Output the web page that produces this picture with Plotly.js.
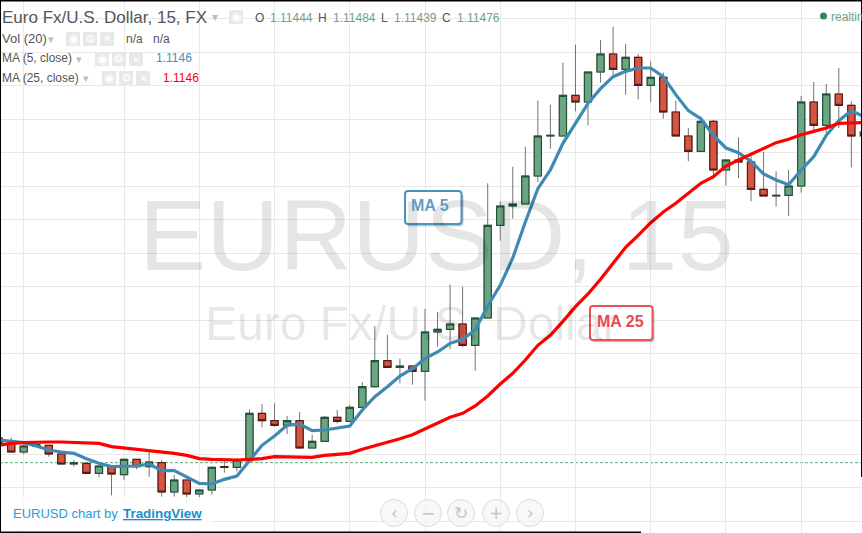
<!DOCTYPE html>
<html>
<head>
<meta charset="utf-8">
<script src="https://cdn.plot.ly/plotly-3.0.1.min.js"></script>
<style>html,body{margin:0;padding:0;background:#fff;overflow:hidden}#chart{width:862px;height:533px}</style>
</head>
<body>
<div id="chart"></div>
<script>
// Prices in 1/100000 units, bars -1 .. 68
const openPts = [111513,111505,111492,111501,111502,111489,111474,111475,111460,111471,111458,111481,111470,111476,111432,111450,111429,111435,111470,111469,111479,111550,111539,111532,111539,111498,111508,111544,111538,111559,111590,111629,111619,111621,111613,111672,111676,111684,111652,111693,111832,111861,111864,111906,111966,111966,112027,112017,112062,112089,112066,112084,112042,112054,112002,111966,111943,111988,111915,111930,111927,111886,111876,111877,111891,112017,111982,112029,112012,111966];
const highPts = [111513,111514,111504,111503,111502,111490,111480,111475,111471,111471,111481,111481,111493,111480,111458,111450,111435,111470,111481,111483,111556,111564,111565,111546,111552,111518,111546,111555,111563,111597,111681,111668,111632,111621,111707,111702,111743,111740,111693,111895,111868,111920,111950,112019,112013,112076,112103,112062,112110,112130,112104,112089,112078,112061,112019,111978,111995,111990,111930,111964,111939,111942,111913,111915,112026,112047,112044,112068,112018,111972];
const lowPts = [111504,111492,111489,111501,111485,111474,111470,111460,111454,111427,111450,111466,111455,111425,111425,111416,111420,111428,111461,111463,111476,111529,111530,111519,111498,111498,111508,111535,111538,111555,111590,111619,111595,111593,111569,111650,111646,111649,111614,111693,111809,111842,111864,111897,111947,111966,112003,111982,112046,112058,112028,112021,112017,111992,111966,111928,111943,111901,111892,111903,111868,111876,111860,111846,111881,111972,111964,111978,111919,111966];
const closePts = [111504,111492,111501,111503,111489,111474,111476,111460,111471,111459,111481,111470,111477,111432,111450,111429,111435,111469,111469,111480,111550,111539,111532,111539,111498,111508,111544,111538,111559,111590,111629,111619,111621,111613,111672,111676,111684,111652,111693,111832,111861,111864,111906,111966,111967,112027,112017,112062,112089,112066,112084,112042,112054,112002,111966,111943,111988,111915,111930,111927,111886,111876,111877,111891,112017,111982,112029,112012,111966,111972];
const ma5Pts = [111510,111508,111506,111501,111495,111492,111490,111482,111475,111470,111471,111471,111474,111464,111464,111454,111445,111444,111451,111456,111479,111502,111516,111532,111534,111524,111525,111528,111531,111555,111575,111590,111606,111617,111632,111642,111655,111661,111675,111711,111742,111783,111837,111887,111915,111955,111985,112015,112037,112055,112063,112068,112068,112055,112028,112004,111992,111967,111948,111941,111928,111909,111900,111893,111915,111935,111967,111989,112004,111995];
const ma25Pts = [111502,111505,111506,111507,111507,111507,111506,111505,111505,111500,111498,111496,111495,111492,111490,111487,111482,111481,111480,111480,111481,111482,111485,111485,111484,111484,111487,111489,111490,111496,111501,111507,111512,111518,111527,111535,111544,111550,111561,111576,111594,111610,111630,111652,111667,111688,111710,111729,111751,111775,111799,111817,111836,111852,111865,111880,111895,111905,111921,111930,111939,111947,111956,111961,111968,111973,111978,111985,111986,111986];
const lastClose = 1.11476;
const gridBars = [1,9,15,21,27,33,39,45,51,57,63];

const P = a => a.map(v => v / 100000);
const bars = openPts.map((_, i) => i - 1);
const open = P(openPts), high = P(highPts), low = P(lowPts), close = P(closePts);
const bodyHigh = open.map((o, i) => Math.max(o, close[i]));
const bodyLow = open.map((o, i) => Math.min(o, close[i]));

const W = 862, H = 533;
const fx = x => x / W, fy = y => 1 - y / H;
const wick = '#737375';
const traces = [
  {type:'candlestick', name:'EURUSD wicks', x:bars, open, high, low, close, hoverinfo:'skip', showlegend:false,
   increasing:{line:{color:wick,width:1},fillcolor:wick}, decreasing:{line:{color:wick,width:1},fillcolor:wick}},
  {type:'candlestick', name:'EURUSD', x:bars, open, high:bodyHigh, low:bodyLow, close, showlegend:false,
   increasing:{line:{color:'#225437',width:1.2},fillcolor:'#6ba583'}, decreasing:{line:{color:'#5b1a13',width:1.2},fillcolor:'#d75442'}},
  {type:'scatter', mode:'lines', name:'MA 5', x:bars, y:P(ma5Pts), line:{color:'#3f8ab3',width:3.2}, showlegend:false},
  {type:'scatter', mode:'lines', name:'MA 25', x:bars, y:P(ma25Pts), line:{color:'#ff0000',width:3.2}, showlegend:false}
];

const SANS = '"Liberation Sans", Arial, sans-serif';
const txt = (text, x, y, size, color, extra) => Object.assign({
  text, x:fx(x), y:fy(y), xref:'paper', yref:'paper', xanchor:'left', yanchor:'middle', showarrow:false,
  borderpad:0, borderwidth:0, font:{family:SANS, size, color}
}, extra || {});

const G = '#6ba583', DK = '#555555', CR = '#bdbdbd';
const annotations = [
  txt('EURUSD, 15', 139, 235, 101, 'rgba(0,0,0,0.1)'),
  txt('Euro Fx/U.S. Dollar', 205, 323, 48, 'rgba(0,0,0,0.1)'),
  txt('Euro Fx/U.S. Dollar, 15, FX', 2, 17, 17, DK),
  txt('▾', 212, 17, 12, CR),
  txt('O', 255, 18, 12, DK), txt('1.11444', 270, 18, 12, G),
  txt('H', 318, 18, 12, DK), txt('1.11484', 333, 18, 12, G),
  txt('L', 381, 18, 12, DK), txt('1.11439', 394, 18, 12, G),
  txt('C', 442, 18, 12, DK), txt('1.11476', 457, 18, 12, G),
  txt('realtime', 831, 17, 12, G),
  txt('Vol (20)', 2, 38.5, 13, DK), txt('▾', 48, 39, 11, CR),
  txt('n/a', 126, 38.5, 12, DK), txt('n/a', 153, 38.5, 12, DK),
  txt('MA (5, close)', 2, 58.5, 12, DK), txt('▾', 76, 59, 11, CR),
  txt('1.1146', 156, 58.5, 12, '#4a90b8'),
  txt('MA (25, close)', 2, 77.5, 12, DK), txt('▾', 83, 78, 11, CR),
  txt('1.1146', 163, 77.5, 12, '#ff0000'),
  txt('MA 5', 411, 205.5, 16, '#5f9fc4', {font:{family:SANS,size:16,color:'#5f9fc4',weight:700}}),
  txt('MA 25', 597, 321.5, 16, '#e84c4c', {font:{family:SANS,size:16,color:'#e84c4c',weight:700}}),
  txt('EURUSD chart by', 13, 513, 13, '#2a9ad8'),
  txt('TradingView', 122.5, 513, 13.4, '#1a8fd0', {font:{family:SANS,size:13.4,color:'#1a8fd0',weight:700,lineposition:'under'}})
];

// small square icons of the legend rows
const ICON = '"DejaVu Sans", sans-serif';
const icons = [[229,10,'◉'],[66,32,'◉'],[83,32,'⚙'],[100,32,'✕'],[95,52,'◉'],[112,52,'⚙'],[129,52,'✕'],[102,71,'◉'],[119,71,'⚙'],[136,71,'✕']];
const rect = (x0,y0,x1,y1,fill,extra) => Object.assign({type:'rect',xref:'paper',yref:'paper',x0:fx(x0),x1:fx(x1),y0:fy(y0),y1:fy(y1),fillcolor:fill,line:{width:0}},extra||{});
const rr = (x0,y0,x1,y1,r) => {
  const X=fx, Y=fy;
  return 'M'+X(x0+r)+','+Y(y0)+' L'+X(x1-r)+','+Y(y0)+' Q'+X(x1)+','+Y(y0)+' '+X(x1)+','+Y(y0+r)+
    ' L'+X(x1)+','+Y(y1-r)+' Q'+X(x1)+','+Y(y1)+' '+X(x1-r)+','+Y(y1)+' L'+X(x0+r)+','+Y(y1)+
    ' Q'+X(x0)+','+Y(y1)+' '+X(x0)+','+Y(y1-r)+' L'+X(x0)+','+Y(y0+r)+' Q'+X(x0)+','+Y(y0)+' '+X(x0+r)+','+Y(y0)+' Z';
};
const pathShape = (x0,y0,x1,y1,r,fill,lc,lw,op) => ({type:'path',xref:'paper',yref:'paper',path:rr(x0,y0,x1,y1,r),fillcolor:fill,opacity:op===undefined?1:op,line:{color:lc||'rgba(0,0,0,0)',width:lw||0}});

const shapes = [
  {type:'line',layer:'below',xref:'paper',yref:'y',x0:0,x1:1,y0:lastClose,y1:lastClose,line:{color:'#5aa981',width:1,dash:'3px,2px'}},
  rect(641,477,862,533,'#ffffff',{layer:'below'}),
  rect(0,497,212,531,'#ffffff',{opacity:0.8}),
];
icons.forEach(([x,y,g]) => {
  shapes.push(rect(x,y,x+14,y+14,'#e8e8e8'));
  annotations.push({text:g,x:fx(x+7),y:fy(y+7),xref:'paper',yref:'paper',xanchor:'center',yanchor:'middle',showarrow:false,borderpad:0,font:{family:ICON,size:g==='✕'?10:12,color:'#ffffff'}});
});
// callout boxes with soft shadow
[[405,191,461.5,224,'#4c93ba'],[590,306,652.5,340,'#e85555']].forEach(([a,b,c,d,col]) => {
  for (let k=4;k>=1;k--) shapes.push(pathShape(a+k*0.5-0.5,b+k*0.6,c+k*0.6,d+k*0.7,4,'#000000',null,0,0.1));
  shapes.push(pathShape(a,b,c,d,3,'#ffffff',col,2));
});
// navigation buttons
const navX = [394,428,461,496,530], navG = ['‹','−','↻','+','›'];
navX.forEach((x,i) => {
  shapes.push({type:'circle',xref:'paper',yref:'paper',x0:fx(x-13.5),x1:fx(x+13.5),y0:fy(513+13.5),y1:fy(513-13.5),fillcolor:'rgba(245,245,245,0.75)',line:{color:'#dddddd',width:1}});
  annotations.push({text:navG[i],x:fx(x),y:fy(513),xref:'paper',yref:'paper',xanchor:'center',yanchor:'middle',showarrow:false,borderpad:0,font:{family:ICON,size:17,color:'#c4c4c4'}});
});
// live dot and frame
shapes.push({type:'circle',xref:'paper',yref:'paper',x0:fx(820),x1:fx(827),y0:fy(19.5),y1:fy(12.5),fillcolor:'#2e8b57',line:{width:0}});
shapes.push(rect(0,0,862,1.5,'#000000'));
shapes.push(rect(0,0,1,533,'#000000'));
shapes.push(rect(861,0,862,477,'#000000'));
shapes.push(rect(0,531.5,641,533,'#000000'));

const layout = {
  width:W, height:H, margin:{l:0,r:0,t:0,b:0,pad:0}, autosize:false,
  paper_bgcolor:'#ffffff', plot_bgcolor:'#ffffff', showlegend:false, hovermode:'closest',
  boxgap:0.18,
  xaxis:{range:[-0.893,67.85], tickmode:'array', tickvals:gridBars, showticklabels:false, ticks:'',
    showgrid:true, gridcolor:'#e8e8e8', gridwidth:1.4, zeroline:false, showline:false, rangeslider:{visible:false}, fixedrange:true},
  yaxis:{range:[1.113705,1.1217], tick0:1.1214225, dtick:0.0005025, tickmode:'linear', showticklabels:false, ticks:'',
    showgrid:true, gridcolor:'#e8e8e8', gridwidth:1.4, zeroline:false, showline:false, fixedrange:true},
  annotations, shapes
};
Plotly.newPlot('chart', traces, layout, {displayModeBar:false, staticPlot:false});
</script>
</body>
</html>
